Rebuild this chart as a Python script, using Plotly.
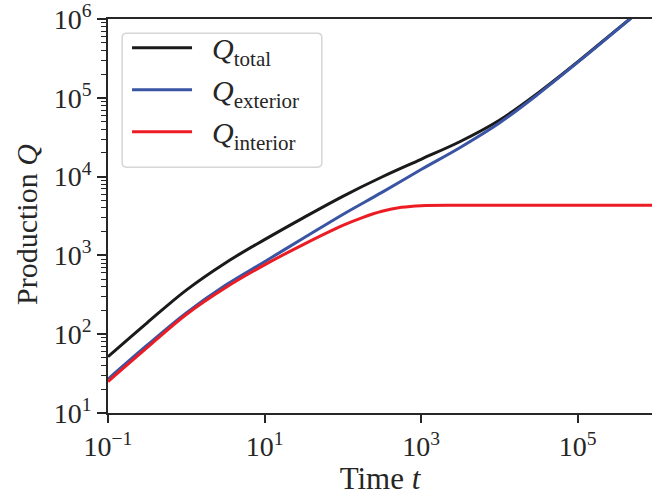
import plotly.graph_objects as go

# ---- data (log-log) ----
t_common = [0.1, 0.316, 1, 3.16, 10, 31.6, 100, 316, 1000, 3162, 1e4, 31623, 1e5, 316228, 891251]
q_total = [51.9, 139.6, 363, 803, 1585, 3020, 5623, 9886, 16596, 27861, 51880, 116145, 285102, 732825, 1698244]
q_exterior = [26.9, 72.4, 186.2, 416.9, 831.8, 1660, 3311, 6310, 12303, 23442, 47863, 112202, 281838, 724436, 1698244]

t_interior = [0.1, 0.316, 1, 3.16, 10, 31.6, 100, 178, 316, 562, 1000, 3162, 1e4, 1e5, 891251]
q_interior = [25.1, 67.6, 178, 389, 759, 1380, 2400, 3020, 3630, 4070, 4270, 4315, 4315, 4315, 4315]

x_tickvals = [0.1, 10, 1000, 100000]
x_ticktext = ["10<sup>−1</sup>", "10<sup>1</sup>", "10<sup>3</sup>", "10<sup>5</sup>"]
y_tickvals = [10, 100, 1000, 10000, 100000, 1000000]
y_ticktext = ["10<sup>1</sup>", "10<sup>2</sup>", "10<sup>3</sup>", "10<sup>4</sup>", "10<sup>5</sup>", "10<sup>6</sup>"]
y_minor = [m * 10 ** e for e in range(1, 6) for m in range(2, 10)]

FONT = "Liberation Serif"
AX = "#262626"
PAD = "&nbsp;&nbsp;"

fig = go.Figure()
fig.add_trace(go.Scatter(x=t_common, y=q_total, mode="lines", name=PAD + "<i>Q</i><sub>total</sub>",
                         line=dict(color="#1a1a1a", width=3, shape="spline")))
fig.add_trace(go.Scatter(x=t_common, y=q_exterior, mode="lines", name=PAD + "<i>Q</i><sub>exterior</sub>",
                         line=dict(color="#3a54a4", width=3, shape="spline")))
fig.add_trace(go.Scatter(x=t_interior, y=q_interior, mode="lines", name=PAD + "<i>Q</i><sub>interior</sub>",
                         line=dict(color="#ec1c24", width=3, shape="spline")))

# rounded legend frame
x0, x1, y0, y1 = 0.026, 0.393, 0.624, 0.964
rx, ry = 0.008, 0.011
path = (f"M{x0+rx},{y0} L{x1-rx},{y0} Q{x1},{y0} {x1},{y0+ry} L{x1},{y1-ry} Q{x1},{y1} {x1-rx},{y1} "
        f"L{x0+rx},{y1} Q{x0},{y1} {x0},{y1-ry} L{x0},{y0+ry} Q{x0},{y0} {x0+rx},{y0} Z")
fig.add_shape(type="path", path=path, xref="paper", yref="paper",
              line=dict(color="#d6d6d6", width=1.5), fillcolor="rgba(255,255,255,0.8)", layer="above")

fig.add_annotation(text="Production <i>Q</i>", textangle=-90, xref="paper", yref="paper",
                   x=0, y=0.5, xanchor="center", yanchor="middle", xshift=-82, yshift=-9,
                   showarrow=False, font=dict(family=FONT, size=30, color=AX))

fig.update_layout(
    width=652, height=496, autosize=False,
    margin=dict(l=108, r=0, t=19, b=83),
    paper_bgcolor="white", plot_bgcolor="white",
    font=dict(family=FONT, size=28, color=AX),
    showlegend=True,
    legend=dict(x=0.035, y=0.993, xanchor="left", yanchor="top",
                bgcolor="rgba(0,0,0,0)", borderwidth=0,
                font=dict(family=FONT, size=30, color=AX), itemwidth=60),
    xaxis=dict(type="log", range=[-1, 5.95], showgrid=False, zeroline=False,
               showline=True, linecolor=AX, linewidth=1.6, mirror=True,
               ticks="outside", ticklen=8, tickwidth=1.5, tickcolor=AX,
               tickmode="array", tickvals=x_tickvals, ticktext=x_ticktext,
               title=dict(text="Time <i>t</i>", standoff=8, font=dict(family=FONT, size=31, color=AX))),
    yaxis=dict(type="log", range=[1, 6], showgrid=False, zeroline=False,
               showline=True, linecolor=AX, linewidth=1.6, mirror=False,
               ticks="outside", ticklen=9, tickwidth=1.5, tickcolor=AX,
               tickmode="array", tickvals=y_tickvals, ticktext=y_ticktext,
               minor=dict(tickmode="array", tickvals=y_minor, ticks="outside", ticklen=5,
                          tickwidth=1.2, tickcolor=AX, showgrid=False)),
)

fig.write_html("out.html")
